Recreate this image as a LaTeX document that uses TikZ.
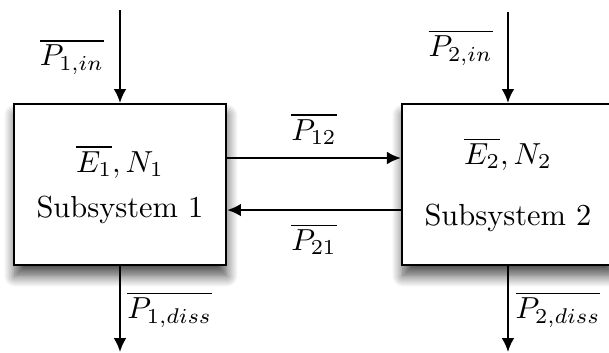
\documentclass[tikz,border=0pt]{standalone}
\usepackage{amsmath,amssymb}
\usepackage{tikz}
\usetikzlibrary{arrows.meta,positioning,shadows.blur}
\tikzset{
  subbox/.style={draw=black, semithick, fill=white, align=center,
    minimum width=2.45cm, minimum height=1.86cm, inner sep=0pt,
    blur shadow={shadow xshift=0.3pt, shadow yshift=-3.6pt,
      shadow blur radius=3.6pt, shadow blur steps=12, shadow opacity=70}},
  flowarrow/.style={-{Latex[length=4.6pt, width=4.2pt]}, thick},
  note/.style={inner sep=1pt}
}
\begin{document}
\begin{tikzpicture}[x=1cm,y=1cm]
  \useasboundingbox (0,0) rectangle (7.034,4.077);
  % Subsystems
  \node[subbox] (sub1) at (1.386,1.946)
    {$\overline{E_1}, N_1$\\[3pt]Subsystem 1};
  \node[subbox] (sub2) at (5.867,1.946)
    {$\overline{E_2}, N_2$\\[8pt]Subsystem 2};

  % Inputs and dissipation
  \coordinate (in1) at (1.386,3.96);
  \coordinate (in2) at (5.867,3.94);
  \coordinate (diss1) at (1.386,0.01);
  \coordinate (diss2) at (5.867,0.01);
  \draw[flowarrow] (in1) -- (sub1.north);
  \draw[flowarrow] (in2) -- (sub2.north);
  \draw[flowarrow] (sub1.south) -- (diss1);
  \draw[flowarrow] (sub2.south) -- (diss2);
  \node[note] (pin1) at (0.83,3.42) {$\overline{P_{1,in}}$};
  \node[note] (pin2) at (5.32,3.53) {$\overline{P_{2,in}}$};
  \node[note] (pdiss1) at (1.96,0.50) {$\overline{P_{1,diss}}$};
  \node[note] (pdiss2) at (6.445,0.50) {$\overline{P_{2,diss}}$};

  % Exchange between subsystems
  \draw[flowarrow] ([yshift=3.06mm]sub1.east) --
    node[note, above=3pt] (p12) {$\overline{P_{12}}$} ([yshift=3.06mm]sub2.west);
  \draw[flowarrow] ([yshift=-2.95mm]sub2.west) --
    node[note, below=3pt] (p21) {$\overline{P_{21}}$} ([yshift=-2.95mm]sub1.east);
\end{tikzpicture}
\end{document}
